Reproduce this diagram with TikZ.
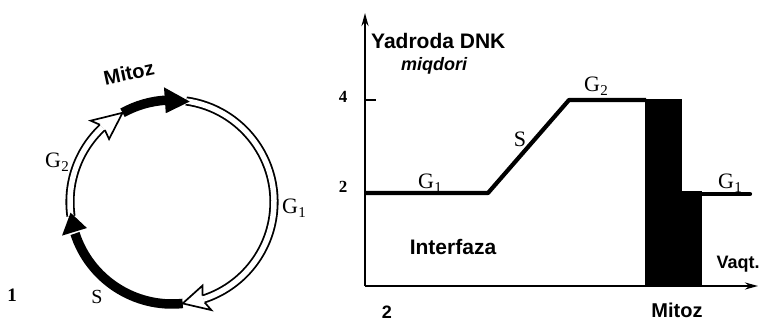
\documentclass[tikz,border=0pt]{standalone}
\usepackage{fontspec}
\setmainfont{Liberation Serif}
\setsansfont{Liberation Sans}
\usetikzlibrary{arrows.meta}
\newcommand{\Gsub}[1]{G\kern0.3pt\raisebox{-0.45ex}{\fontsize{15}{15}\selectfont #1}}
\begin{document}
\begin{tikzpicture}[x=1pt,y=1pt,
  dbl/.style={draw=black, line width=1.8pt, double=white, double distance=5.5pt},
  blk/.style={draw=black, line width=9.5pt},
  sflab/.style={inner sep=0pt, font=\sffamily\bfseries},
  serlab/.style={inner sep=0pt, font=\rmfamily},
  numlab/.style={inner sep=0pt, font=\rmfamily\bfseries\fontsize{17}{20}\selectfont},
  axisline/.style={line width=2.6pt, -{Stealth[length=13pt,width=7pt]}},
  curve/.style={line width=4.2pt, line join=round},
  bar/.style={fill=black, draw=none}]
\useasboundingbox (0,0) rectangle (766,327);

% ---------- cycle (figure 1) ----------
\begin{scope}[shift={(172,125)}]
  \coordinate (cc) at (0,0);
  % white (double) arcs
  \draw[dbl] (82:102) arc[start angle=82, end angle=-72, radius=102];
  \draw[dbl] (188:102) arc[start angle=188, end angle=133, radius=102];
  % white heads
  \fill[white] (-72:105.6) -- (-70:115) -- (-84:102) -- (-70:89) -- (-72:98.4) -- cycle;
  \draw[line width=1.7pt, line join=miter] (-72:105.6) -- (-70:115) -- (-84:102) -- (-70:89) -- (-72:98.4);
  \fill[white] (133:105.6) -- (135:115) -- (119:102) -- (135:89) -- (133:98.4) -- cycle;
  \draw[line width=1.7pt, line join=miter] (133:105.6) -- (135:115) -- (119:102) -- (135:89) -- (133:98.4);
  % black arcs
  \draw[blk] (119:102) arc[start angle=119, end angle=93, radius=102];
  \fill (94:115) -- (80:102) -- (94:89) -- cycle;
  \draw[blk] (-84:102) arc[start angle=-84, end angle=-162, radius=102];
  \fill (-163:115) -- (-174:102) -- (-163:89) -- cycle;
\end{scope}
\node[sflab, rotate=12, font=\sffamily\bfseries\fontsize{20}{24}\selectfont] (mitozA) at (129,254) {Mitoz};
\node[serlab, font=\rmfamily\fontsize{22}{26}\selectfont] (g2A) at (57,165) {\Gsub{2}};
\node[serlab, font=\rmfamily\fontsize{22}{26}\selectfont] (g1A) at (294,119) {\Gsub{1}};
\node[serlab, font=\rmfamily\fontsize{20}{24}\selectfont] (sA) at (97,30) {S};
\node[numlab, font=\rmfamily\bfseries\fontsize{19}{22}\selectfont] (one) at (12,32) {1};

% ---------- graph (figure 2) ----------
\coordinate (O) at (365,41);
\coordinate (ytop) at (365,314);
\coordinate (xend) at (758,41);
\draw[axisline] (O) -- (ytop);
\draw[axisline] (O) -- (xend);
\coordinate (t4) at (365,227);
\coordinate (t4e) at (376,227);
\draw[line width=2pt] (t4) -- (t4e);

\coordinate (p0) at (365,134);
\coordinate (p1) at (488,134);
\coordinate (p2) at (569,227);
\coordinate (p3) at (646,227);
\draw[curve] (p0) -- (p1) -- (p2) -- (p3);
\fill[bar] (645,41) rectangle (682,228);
\fill[bar] (681,41) rectangle (702,136);
\coordinate (q0) at (701,133);
\coordinate (q1) at (750,133);
\draw[curve, line cap=round] (q0) -- (q1);

\node[sflab, anchor=west, font=\sffamily\bfseries\fontsize{21}{24}\selectfont] (ylab) at (371,286) {Yadroda DNK};
\node[sflab, font=\sffamily\bfseries\itshape\fontsize{18}{22}\selectfont] (ylab2) at (434,261) {miqdori};
\node[numlab] (four) at (343,230) {4};
\node[numlab] (two) at (343,140) {2};
\node[serlab, font=\rmfamily\fontsize{22}{26}\selectfont] (g2B) at (596,241) {\Gsub{2}};
\node[serlab, font=\rmfamily\fontsize{22}{26}\selectfont] (sB) at (520,188) {S};
\node[serlab, font=\rmfamily\fontsize{22}{26}\selectfont] (g1B) at (430,144) {\Gsub{1}};
\node[serlab, font=\rmfamily\fontsize{22}{26}\selectfont] (g1C) at (730,144) {\Gsub{1}};
\node[sflab, font=\sffamily\bfseries\fontsize{21}{24}\selectfont] (inter) at (453,80) {Interfaza};
\node[sflab, font=\sffamily\bfseries\fontsize{18}{22}\selectfont] (vaqt) at (738,63) {Vaqt.};
\node[sflab, font=\sffamily\bfseries\fontsize{20}{24}\selectfont] (mitozB) at (677,17) {Mitoz};
\node[sflab, font=\sffamily\bfseries\fontsize{18}{22}\selectfont] (twoB) at (387,15) {2};
\end{tikzpicture}
\end{document}
